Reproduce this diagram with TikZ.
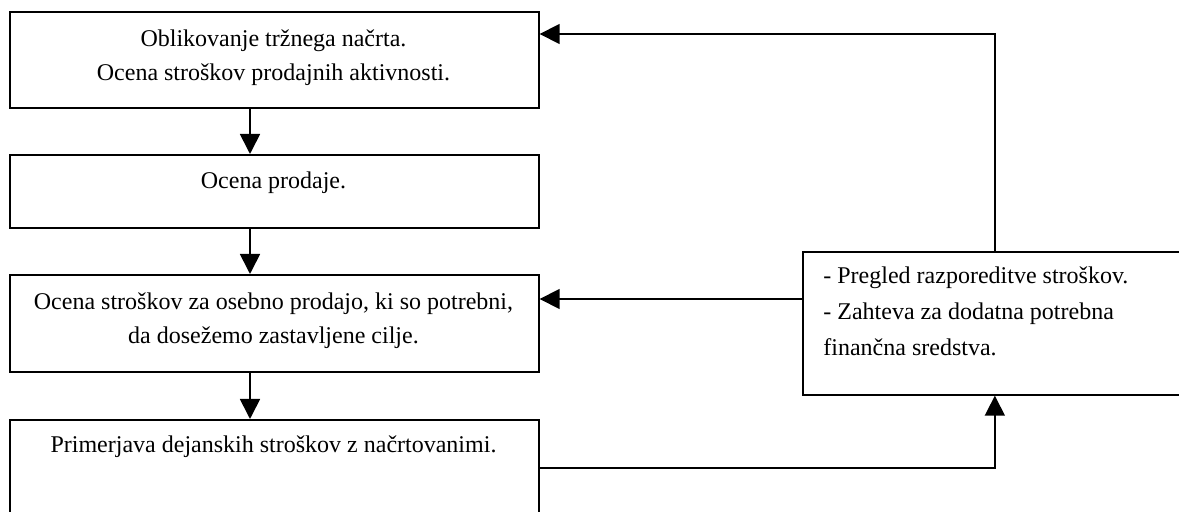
\documentclass[tikz,border=0pt]{standalone}
\usepackage{fontspec}
\setmainfont{Liberation Serif}
\usetikzlibrary{arrows.meta}
\tikzset{
  box/.style={draw, line width=0.85pt, anchor=north west, inner sep=0pt, minimum width=264.5pt},
  txt/.style={anchor=north, inner sep=0pt, align=center, font=\fontsize{12pt}{17pt}\selectfont},
  arr/.style={line width=0.85pt, -{Triangle[length=10pt,width=10pt]}}
}
\begin{document}
\begin{tikzpicture}[x=0.5pt,y=-0.5pt]
\useasboundingbox (0,0) rectangle (1179,512);
\clip (0,0) rectangle (1179,512);

\node[box, minimum height=48pt] (plan) at (9,11) {};
\node[txt] (planTxt) at (273.5,29) {Oblikovanje tržnega načrta.\\Ocena stroškov prodajnih aktivnosti.};

\node[box, minimum height=36.5pt] (sales) at (9,154) {};
\node[txt] (salesTxt) at (273.5,171) {Ocena prodaje.};

\node[box, minimum height=48.5pt] (cost) at (9,274) {};
\node[txt] (costTxt) at (273.5,292) {Ocena stroškov za osebno prodajo, ki so potrebni,\\da dosežemo zastavljene cilje.};

\node[box, minimum height=48pt] (compare) at (9,419) {};
\node[txt] (compareTxt) at (273.5,435) {Primerjava dejanskih stroškov z načrtovanimi.};

\node[box, minimum width=192pt, minimum height=71.5pt] (review) at (802,251) {};
\node[txt, anchor=north west, align=left, font=\fontsize{12pt}{18pt}\selectfont] (reviewTxt) at (823,266) {- Pregled razporeditve stroškov.\\- Zahteva za dodatna potrebna\\finančna sredstva.};

\coordinate (col) at (250,0);
\coordinate (top) at (0,34);
\coordinate (mid) at (0,299);

\draw[arr] (plan.south -| col) -- (sales.north -| col);
\draw[arr] (sales.south -| col) -- (cost.north -| col);
\draw[arr] (cost.south -| col) -- (compare.north -| col);

\draw[arr] (compare.east) -| (review.south);
\draw[arr] (review.west |- mid) -- (cost.east |- mid);
\draw[arr] (review.north) |- (plan.east |- top);
\end{tikzpicture}
\end{document}
